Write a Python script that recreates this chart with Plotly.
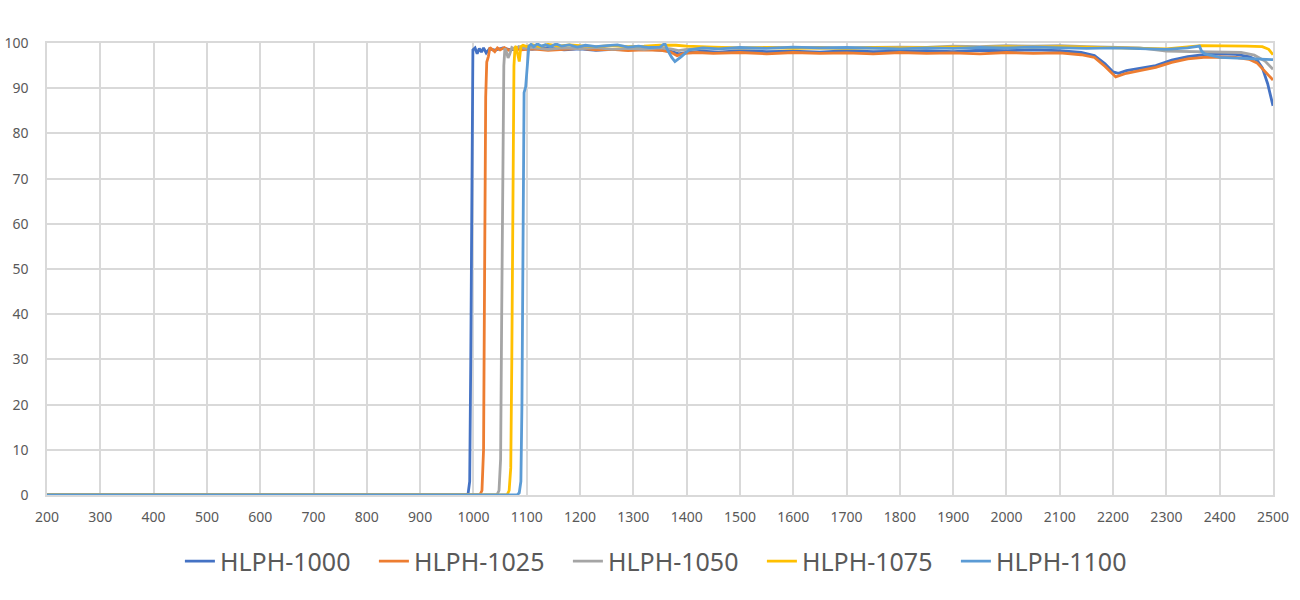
import plotly.graph_objects as go

# ---- data ----
names = ["HLPH-1000", "HLPH-1025", "HLPH-1050", "HLPH-1075", "HLPH-1100"]
colors = ["#4472C4", "#ED7D31", "#A5A5A5", "#FFC000", "#5B9BD5"]

wl_1000 = [200, 985, 990, 993, 995, 997, 999, 1003, 1007, 1011, 1015, 1019, 1024, 1030,
           1040, 1055, 1070, 1090, 1110, 1140, 1170, 1200, 1230, 1260, 1290, 1320, 1350, 1370, 1385,
           1400, 1430, 1460, 1500, 1550, 1600, 1650, 1700, 1750, 1800, 1850, 1900, 1950, 2000, 2050,
           2100, 2140, 2165, 2185, 2200, 2210, 2225, 2250, 2280, 2310, 2340, 2370, 2400, 2430, 2455,
           2470, 2480, 2490, 2500]
t_1000 = [0, 0, 0.3, 3, 30, 80, 98.5, 98.9, 97.6, 98.8, 98.0, 98.9, 97.8, 98.7,
          98.4, 98.9, 98.5, 98.8, 98.6, 98.9, 98.5, 98.7, 98.4, 98.6, 98.5, 98.7, 98.4, 98.2, 97.6,
          97.9, 98.2, 98.0, 98.3, 98.1, 98.2, 98.0, 98.3, 98.1, 98.2, 98.3, 98.1, 98.4, 98.3, 98.5,
          98.3, 97.9, 97.2, 95.4, 93.6, 93.3, 93.9, 94.4, 95.0, 96.2, 97.0, 97.4, 97.6, 97.5, 97.0,
          96.2, 94.5, 91.0, 86.1]

wl_1025 = [200, 1012, 1016, 1019, 1021, 1023, 1025, 1028, 1031, 1035, 1040, 1045,
           1050, 1058, 1066, 1075, 1090, 1110, 1140, 1170, 1200, 1230, 1260, 1290, 1320, 1350, 1370,
           1382, 1395, 1420, 1450, 1500, 1550, 1600, 1650, 1700, 1750, 1800, 1850, 1900, 1950, 2000,
           2050, 2100, 2140, 2165, 2185, 2205, 2225, 2250, 2280, 2310, 2340, 2370, 2400, 2430, 2455,
           2470, 2485, 2500]
t_1025 = [0, 0, 1, 10, 50, 88, 95.8, 97.0, 99.0, 98.6, 98.1, 98.9,
          98.5, 99.0, 98.4, 98.8, 98.5, 98.7, 98.4, 98.6, 98.8, 98.5, 98.6, 98.3, 98.5, 98.4, 98.0,
          97.2, 97.7, 97.9, 97.7, 97.9, 97.6, 97.9, 97.7, 97.8, 97.6, 97.9, 97.7, 97.8, 97.6, 97.9,
          97.7, 97.8, 97.4, 96.8, 94.8, 92.5, 93.3, 93.9, 94.6, 95.7, 96.5, 96.8, 96.9, 96.8, 96.4,
          95.6, 93.8, 91.8]

wl_1050 = [200, 1044, 1048, 1051, 1053, 1055, 1057, 1059, 1062, 1065, 1068,
           1072, 1078, 1085, 1095, 1110, 1140, 1170, 1200, 1230, 1260, 1290, 1320, 1350, 1370, 1385,
           1400, 1450, 1500, 1550, 1600, 1650, 1700, 1750, 1800, 1850, 1900, 1950, 2000, 2050, 2100,
           2150, 2200, 2250, 2300, 2350, 2400, 2440, 2465, 2485, 2500]
t_1050 = [0, 0, 1, 8, 40, 80, 95, 98.8, 98.0, 96.7, 97.5,
          99.0, 98.6, 99.2, 98.8, 99.0, 98.6, 98.9, 98.7, 99.0, 98.6, 98.8, 98.6, 98.9, 98.7, 98.3,
          98.6, 98.9, 98.8, 99.0, 98.9, 99.0, 98.8, 99.0, 99.1, 99.0, 99.3, 99.2, 99.4, 99.3, 99.4,
          99.2, 99.1, 98.9, 98.2, 98.1, 98.1, 97.9, 97.3, 96.0, 94.2]

wl_1075 = [200, 1063, 1067, 1070, 1072, 1074, 1076, 1078, 1080, 1083, 1086,
           1089, 1093, 1100, 1110, 1125, 1140, 1160, 1180, 1200, 1230, 1260, 1290, 1320, 1350, 1380,
           1400, 1450, 1500, 1550, 1600, 1650, 1700, 1750, 1800, 1850, 1900, 1950, 2000, 2050, 2100,
           2150, 2200, 2250, 2300, 2365, 2400, 2450, 2480, 2492, 2500]
t_1075 = [0, 0, 1, 6, 30, 75, 95, 99.0, 99.3, 97.5, 95.9,
          99.2, 99.5, 99.2, 99.6, 99.2, 99.7, 99.3, 99.6, 99.4, 99.2, 99.4, 99.2, 99.3, 99.5, 99.5,
          99.3, 99.1, 98.9, 99.0, 98.8, 98.9, 98.8, 99.0, 98.9, 99.0, 99.1, 99.0, 99.2, 99.1, 99.2,
          99.1, 99.0, 98.9, 98.7, 99.4, 99.4, 99.3, 99.2, 98.6, 97.4]

wl_1100 = [200, 1082, 1086, 1089, 1091, 1093, 1095, 1098, 1100, 1102,
           1104, 1108, 1113, 1120, 1128, 1135, 1145, 1155, 1165, 1180, 1195, 1210, 1230, 1250, 1270,
           1290, 1310, 1330, 1350, 1359, 1364, 1372, 1378, 1390, 1405, 1430, 1460, 1500, 1550, 1600,
           1650, 1700, 1750, 1800, 1850, 1900, 1950, 2000, 2050, 2100, 2150, 2200, 2250, 2300, 2340,
           2362, 2366, 2372, 2400, 2450, 2500]
t_1100 = [0, 0, 0.5, 3, 20, 60, 89, 90.3, 93, 97,
          99.3, 99.7, 99.2, 99.8, 99.3, 99.6, 99.2, 99.8, 99.3, 99.6, 99.1, 99.5, 99.2, 99.4, 99.6,
          99.1, 99.3, 99.0, 99.1, 99.9, 98.5, 96.8, 95.9, 97.0, 98.5, 98.9, 98.7, 99.0, 98.8, 99.1,
          98.9, 99.0, 98.8, 98.7, 98.9, 98.8, 99.0, 98.9, 99.1, 99.0, 98.8, 98.9, 98.7, 98.6, 98.9,
          99.3, 98.2, 97.6, 96.8, 96.6, 96.3]

x_ticks = list(range(200, 2501, 100))
y_ticks = list(range(0, 101, 10))

series_x = [wl_1000, wl_1025, wl_1050, wl_1075, wl_1100]
series_y = [t_1000, t_1025, t_1050, t_1075, t_1100]

FONT = "Noto Sans"
TXT = "#595959"
GRID = "#D9D9D9"

fig = go.Figure()
for name, col, xs, ys in zip(names, colors, series_x, series_y):
    fig.add_trace(go.Scatter(x=xs, y=ys, mode="lines", name=name,
                             line=dict(color=col, width=2.8)))

fig.update_layout(
    width=1300, height=600,
    margin=dict(l=47, r=27, t=43, b=105, autoexpand=False),
    paper_bgcolor="white", plot_bgcolor="white",
    font=dict(family=FONT, color=TXT),
    showlegend=True,
    legend=dict(orientation="h", x=0.504, xanchor="center", y=-0.147, yanchor="middle",
                entrywidth=149, entrywidthmode="pixels",
                font=dict(size=25, color=TXT, family=FONT)),
)
fig.update_xaxes(range=[200, 2500], tickmode="array", tickvals=x_ticks,
                 ticktext=[str(v) for v in x_ticks], automargin=False,
                 showgrid=True, gridcolor=GRID, gridwidth=1.5,
                 showline=True, linecolor=GRID, linewidth=1.5, mirror=True,
                 zeroline=False, ticks="", ticklabelstandoff=8,
                 tickfont=dict(size=14, color=TXT, family=FONT))
fig.update_yaxes(range=[0, 100], tickmode="array", tickvals=y_ticks,
                 ticktext=[str(v) for v in y_ticks], automargin=False,
                 showgrid=True, gridcolor=GRID, gridwidth=1.5,
                 showline=True, linecolor=GRID, linewidth=1.5, mirror=True,
                 zeroline=False, ticks="", ticklabelstandoff=14,
                 tickfont=dict(size=14, color=TXT, family=FONT))

# remove the browser's default 8px body margin so the figure fills the window
fig.write_html("out.html", config={"displayModeBar": False},
               post_script="document.body.style.margin='0';")
